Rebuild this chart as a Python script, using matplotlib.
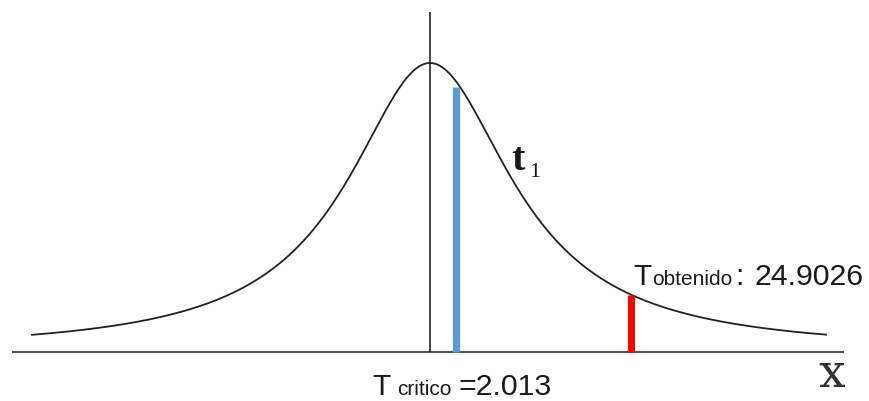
import numpy as np
import matplotlib
matplotlib.use("Agg")
import matplotlib.pyplot as plt
from matplotlib.transforms import IdentityTransform

# Student t density, 1 degree of freedom
grados_libertad = 1
x_min, x_max = -3.98, 3.96
t_critico = 2.013
t_obtenido = 24.9026
linea_azul_x = 0.26

W, H = 869, 401


def densidad_t(x, nu=grados_libertad):
    from math import gamma, pi, sqrt
    c = gamma((nu + 1) / 2) / (sqrt(nu * pi) * gamma(nu / 2))
    return c * (1 + x ** 2 / nu) ** (-(nu + 1) / 2)


fig = plt.figure(figsize=(W / 100, H / 100), dpi=100)
ax = fig.add_axes([0, 0, 1, 1])
ax.axis("off")
ax.set_xlim(-4.30, 4.39)
ax.set_ylim(-0.054, 0.3877)

# axes of the sketch
ax.plot([-4.18, 4.14], [0, 0], color="#555555", lw=1.6, solid_capstyle="butt")
ax.plot([0, 0], [0, 0.3744], color="#111111", lw=1.1, solid_capstyle="butt")

# density curve
xs = np.linspace(x_min, x_max, 800)
ax.plot(xs, densidad_t(xs), color="#222222", lw=1.3)

# marked values
ax.plot([linea_azul_x, linea_azul_x], [0, densidad_t(linea_azul_x) * 0.978],
        color="#5b9bd5", lw=5.2, solid_capstyle="butt", zorder=3)
ax.plot([t_critico, t_critico], [0, densidad_t(t_critico)],
        color="#ff0000", lw=5.0, solid_capstyle="butt", zorder=3)

ident = IdentityTransform()
sans = "Liberation Sans"
ink = "#1a1a1a"


def texto(px, py, s, size, **kw):
    fig.text(px, H - py, s, fontsize=size, transform=ident,
             ha="left", va="baseline", **kw)


# curve label t_1
texto(511, 170, "t", 29, family="Liberation Serif", weight="bold", color=ink)
texto(529, 177, str(grados_libertad), 16, family="Liberation Serif", color=ink)

# obtained statistic
texto(633, 285, "T", 21.5, family=sans, color=ink)
texto(652, 285, "obtenido", 15, family=sans, color=ink)
texto(735, 285, ":", 21.5, family=sans, color=ink)
texto(754, 285, f"{t_obtenido:.4f}", 21.8, family=sans, color=ink)

# critical value
texto(372, 395, "T", 21.5, family=sans, color=ink)
texto(397, 395, "critico", 15, family=sans, color=ink)
texto(459, 395, f"={t_critico:.3f}", 21.8, family=sans, color=ink)

# axis name
texto(818, 387, "x", 34, family="DejaVu Serif", color="#333333")

fig.savefig("out.png", dpi=100)
